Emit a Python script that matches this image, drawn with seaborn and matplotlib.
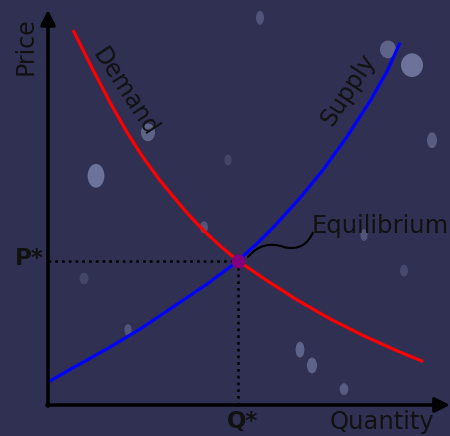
import numpy as np
import pandas as pd
import matplotlib
matplotlib.use("Agg")
import matplotlib.pyplot as plt
from matplotlib.patches import Ellipse
import seaborn as sns

# Curvas (cantidad, precio)
demanda_q = [0.625, 1.125, 1.55, 1.975, 2.375, 2.8, 3.475, 3.875, 4.3, 4.75,
             5.425, 6.225, 7.05, 7.875, 8.725, 9.375]
demanda_p = [9.49, 8.48, 7.66, 6.90, 6.27, 5.68, 4.86, 4.43, 4.03, 3.65,
             3.18, 2.66, 2.18, 1.76, 1.37, 1.10]

oferta_q = [0.0, 0.625, 1.475, 2.3, 3.125, 3.975, 4.75, 5.25, 5.675, 6.3,
            6.875, 7.475, 8.05, 8.475, 8.8]
oferta_p = [0.58, 0.94, 1.42, 1.92, 2.48, 3.06, 3.65, 4.11, 4.54, 5.24,
            5.95, 6.79, 7.69, 8.44, 9.17]

# Equilibrio
q_eq = 4.75
p_eq = 3.65

# Manchas de fondo (decoración tipo bokeh): x, y, ancho, alto, alpha
bokeh_x = [1.2, 2.5, 9.1, 8.5, 6.3, 6.6, 7.4, 2.0, 9.6, 3.9, 7.9, 5.3, 8.9, 0.9, 4.5]
bokeh_y = [5.8, 6.9, 8.6, 9.0, 1.4, 1.0, 0.4, 1.9, 6.7, 4.5, 4.3, 9.8, 3.4, 3.2, 6.2]
bokeh_w = [0.42, 0.35, 0.55, 0.40, 0.22, 0.25, 0.22, 0.18, 0.25, 0.20, 0.18, 0.20, 0.20, 0.22, 0.18]
bokeh_h = [0.60, 0.45, 0.60, 0.45, 0.40, 0.40, 0.30, 0.30, 0.40, 0.30, 0.30, 0.35, 0.30, 0.30, 0.28]
bokeh_a = [0.45, 0.35, 0.45, 0.35, 0.35, 0.35, 0.30, 0.25, 0.30, 0.25, 0.25, 0.25, 0.18, 0.15, 0.15]

fondo = "#2f3052"

fig = plt.figure(figsize=(4.5, 4.36), dpi=100)
fig.patch.set_facecolor(fondo)
ax = fig.add_axes([0, 0, 1, 1])
ax.set_facecolor(fondo)
ax.set_xlim(-1.2, 10.05)
ax.set_ylim(-0.785, 10.25)
ax.axis("off")

for x, y, w, h, a in zip(bokeh_x, bokeh_y, bokeh_w, bokeh_h, bokeh_a):
    ax.add_patch(Ellipse((x, y), w, h, color="#b8c4f0", alpha=a, lw=0, zorder=0))

df_dem = pd.DataFrame({"q": demanda_q, "p": demanda_p})
df_ofe = pd.DataFrame({"q": oferta_q, "p": oferta_p})

sns.lineplot(data=df_dem, x="q", y="p", color="#ff0000", lw=2.3, sort=False, ax=ax, zorder=3)
sns.lineplot(data=df_ofe, x="q", y="p", color="#0000ff", lw=2.3, sort=False, ax=ax, zorder=3)
for ln in ax.lines:
    ln.set_solid_joinstyle("round")
    ln.set_solid_capstyle("butt")

# lineas punteadas al equilibrio
ax.plot([0, q_eq], [p_eq, p_eq], color="black", ls=(0, (1.1, 1.6)), lw=1.8, zorder=2)
ax.plot([q_eq, q_eq], [0, p_eq], color="black", ls=(0, (1.1, 1.6)), lw=1.8, zorder=2)
ax.scatter([q_eq], [p_eq], s=80, color="#800080", zorder=5)

# ejes con flechas
ax.annotate("", xy=(10.05, 0), xytext=(-0.03, 0),
            arrowprops=dict(arrowstyle="-|>", lw=2.5, color="black", mutation_scale=22,
                            shrinkA=0, shrinkB=0))
ax.annotate("", xy=(0, 10.0), xytext=(0, -0.03),
            arrowprops=dict(arrowstyle="-|>", lw=2.5, color="black", mutation_scale=22,
                            shrinkA=0, shrinkB=0))

ax.text(-0.55, 9.09, "Price", rotation=90, fontsize=17, color="#111111", ha="center", va="center")
ax.text(8.35, -0.42, "Quantity", fontsize=17.5, color="#111111", ha="center", va="center")
ax.text(4.86, -0.41, "Q*", fontsize=16.5, fontweight="bold", color="#111111", ha="center", va="center")
ax.text(-0.48, 3.72, "P*", fontsize=16.5, fontweight="bold", color="#111111", ha="center", va="center")
ax.text(1.93, 7.92, "Demand", rotation=-57, fontsize=17, color="#111111", ha="center", va="center")
ax.text(7.5, 7.97, "Supply", rotation=57, fontsize=17, color="#111111", ha="center", va="center")
ax.text(6.6, 4.53, "Equilibrium", fontsize=17.5, color="#111111", ha="left", va="center")

# conector ondulado hacia la etiqueta
ax.annotate("", xy=(5.92, 3.99), xytext=(5.0, 3.75),
            arrowprops=dict(arrowstyle="-", lw=1.5, color="black",
                            connectionstyle="arc3,rad=-0.35", shrinkA=0, shrinkB=0))
ax.annotate("", xy=(6.62, 4.36), xytext=(5.92, 3.99),
            arrowprops=dict(arrowstyle="-", lw=1.5, color="black",
                            connectionstyle="arc3,rad=0.4", shrinkA=0, shrinkB=0))

fig.savefig("out.png", dpi=100, facecolor=fondo)
